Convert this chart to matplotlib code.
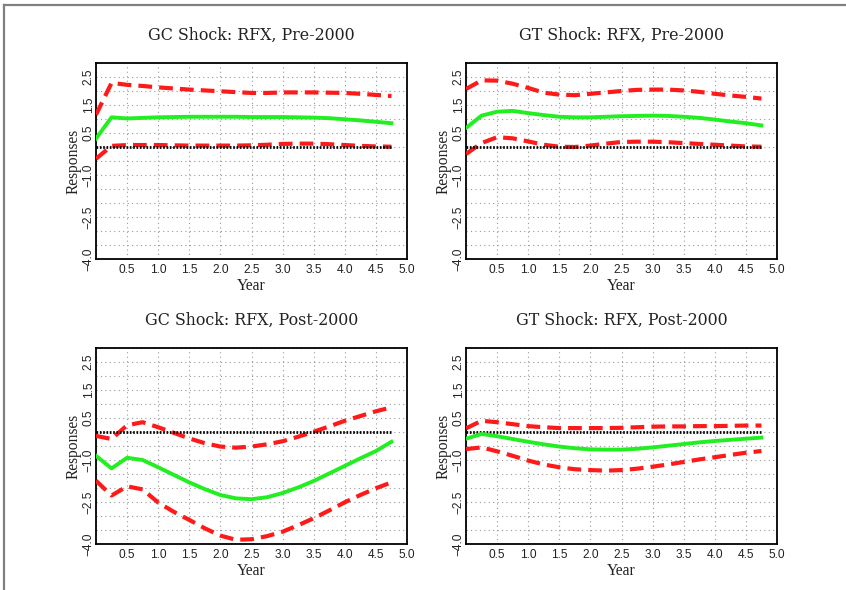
import numpy as np
import matplotlib
matplotlib.use("Agg")
import matplotlib.pyplot as plt
from matplotlib.lines import Line2D
from matplotlib.ticker import MultipleLocator

# Quarterly horizon in years
years = np.arange(20) * 0.25

titles = [
    "GC Shock: RFX, Pre-2000",
    "GT Shock: RFX, Pre-2000",
    "GC Shock: RFX, Post-2000",
    "GT Shock: RFX, Post-2000",
]

# Point estimates of the impulse responses
gc_pre_mid = [0.30, 1.06, 1.02, 1.04, 1.06, 1.07, 1.08, 1.08, 1.08, 1.08,
              1.07, 1.07, 1.07, 1.06, 1.05, 1.03, 0.99, 0.95, 0.90, 0.85]
gt_pre_mid = [0.68, 1.12, 1.26, 1.29, 1.21, 1.14, 1.08, 1.06, 1.06, 1.08,
              1.10, 1.11, 1.12, 1.11, 1.08, 1.04, 0.98, 0.91, 0.85, 0.77]
gc_post_mid = [-0.85, -1.30, -0.92, -1.00, -1.26, -1.53, -1.80, -2.04, -2.25, -2.37,
               -2.40, -2.33, -2.18, -1.98, -1.75, -1.48, -1.21, -0.94, -0.68, -0.35]
gt_post_mid = [-0.24, -0.07, -0.15, -0.25, -0.35, -0.44, -0.52, -0.58, -0.62, -0.63,
               -0.63, -0.60, -0.55, -0.49, -0.43, -0.37, -0.32, -0.28, -0.24, -0.20]

# Upper confidence bands
gc_pre_up = [1.15, 2.29, 2.22, 2.18, 2.13, 2.09, 2.05, 2.02, 1.99, 1.96,
             1.93, 1.93, 1.95, 1.95, 1.95, 1.94, 1.93, 1.90, 1.86, 1.82]
gt_pre_up = [2.07, 2.38, 2.37, 2.26, 2.11, 1.94, 1.87, 1.85, 1.90, 1.95,
             2.00, 2.04, 2.05, 2.05, 2.02, 1.97, 1.90, 1.84, 1.79, 1.73]
gc_post_up = [-0.14, -0.25, 0.24, 0.35, 0.17, -0.03, -0.23, -0.40, -0.52, -0.56,
              -0.52, -0.44, -0.33, -0.17, 0.01, 0.20, 0.40, 0.57, 0.74, 0.88]
gt_post_up = [0.13, 0.40, 0.35, 0.28, 0.21, 0.17, 0.14, 0.14, 0.14, 0.14,
              0.15, 0.17, 0.19, 0.20, 0.20, 0.21, 0.21, 0.22, 0.23, 0.23]

# Lower confidence bands
gc_pre_lo = [-0.42, 0.04, 0.07, 0.07, 0.07, 0.06, 0.05, 0.05, 0.05, 0.05,
             0.06, 0.08, 0.11, 0.12, 0.12, 0.10, 0.07, 0.04, 0.02, 0.01]
gt_pre_lo = [-0.25, 0.14, 0.35, 0.31, 0.20, 0.08, 0.01, 0.00, 0.05, 0.12,
             0.18, 0.19, 0.19, 0.17, 0.14, 0.11, 0.08, 0.05, 0.02, 0.01]
gc_post_lo = [-1.74, -2.27, -1.94, -2.05, -2.52, -2.85, -3.14, -3.44, -3.70, -3.85,
              -3.83, -3.72, -3.56, -3.33, -3.08, -2.80, -2.51, -2.25, -2.01, -1.80]
gt_post_lo = [-0.61, -0.55, -0.69, -0.85, -1.02, -1.16, -1.26, -1.33, -1.36, -1.38,
              -1.36, -1.31, -1.24, -1.16, -1.07, -0.98, -0.90, -0.82, -0.74, -0.68]

mids = [gc_pre_mid, gt_pre_mid, gc_post_mid, gt_post_mid]
ups = [gc_pre_up, gt_pre_up, gc_post_up, gt_post_up]
los = [gc_pre_lo, gt_pre_lo, gc_post_lo, gt_post_lo]

x_ticks = [0.5, 1.0, 1.5, 2.0, 2.5, 3.0, 3.5, 4.0, 4.5, 5.0]
y_ticks = [2.5, 1.5, 0.5, -1.0, -2.5, -4.0]

W, H = 846, 590
fig = plt.figure(figsize=(W / 100, H / 100), dpi=100)

# Frame lines along the top and left of the page
fig.add_artist(Line2D([4 / W, 1.0], [1 - 5 / H, 1 - 5 / H], color="#808080",
                      lw=1.6, transform=fig.transFigure))
fig.add_artist(Line2D([4 / W, 4 / W], [0.0, 1 - 5 / H], color="#808080",
                      lw=1.6, transform=fig.transFigure))

# Axes boxes in pixels: (left, top, right, bottom)
boxes = [
    (96, 63, 407, 259),
    (466, 63, 777, 259),
    (96, 348, 407, 544),
    (466, 348, 777, 544),
]

tick_font = dict(family="Liberation Sans", size=8.6, color="#222222")
title_font = dict(family="DejaVu Serif", size=11.4, color="#222222")
label_font = dict(family="Liberation Serif", size=11.2, color="#222222")

grid_style = dict(color="#9a9a9a", linestyle=(0, (1, 3)), linewidth=0.8)

for i, (l, t, r, b) in enumerate(boxes):
    ax = fig.add_axes([l / W, 1 - b / H, (r - l) / W, (b - t) / H])
    ax.set_xlim(0, 5)
    ax.set_ylim(-4, 3)

    ax.set_xticks(x_ticks)
    ax.set_xticklabels([f"{v:.1f}" for v in x_ticks], **tick_font)
    ax.xaxis.set_minor_locator(MultipleLocator(0.5))
    ax.yaxis.set_minor_locator(MultipleLocator(0.5))
    ax.set_yticks(y_ticks)
    ax.set_yticklabels([f"{v:.1f}".replace("-", "\u2212") for v in y_ticks],
                       rotation=90, va="center", **tick_font)
    ax.grid(True, which="both", **grid_style)
    ax.set_axisbelow(True)
    ax.tick_params(which="both", length=0)
    ax.tick_params(axis="x", pad=3.5)
    ax.tick_params(axis="y", pad=1)

    for s in ax.spines.values():
        s.set_linewidth(1.3)
        s.set_color("black")

    ax.plot(years, ups[i], color="#ff1a1a", lw=3.0, linestyle=(0, (3.3, 1.7)),
            dash_capstyle="butt", zorder=3)
    ax.plot(years, los[i], color="#ff1a1a", lw=3.0, linestyle=(0, (3.3, 1.7)),
            dash_capstyle="butt", zorder=3)
    ax.plot(years, np.zeros_like(years), color="black", lw=2.0,
            linestyle=(0, (0.6, 0.6)), zorder=4)
    ax.plot(years, mids[i], color="#22ee22", lw=2.8, zorder=5)

    ax.set_title(titles[i], pad=17, **title_font)
    ax.set_xlabel("Year", labelpad=1.5, **label_font)
    ax.set_ylabel("Responses", labelpad=0.5, **label_font)

fig.savefig("out.png", dpi=100)
